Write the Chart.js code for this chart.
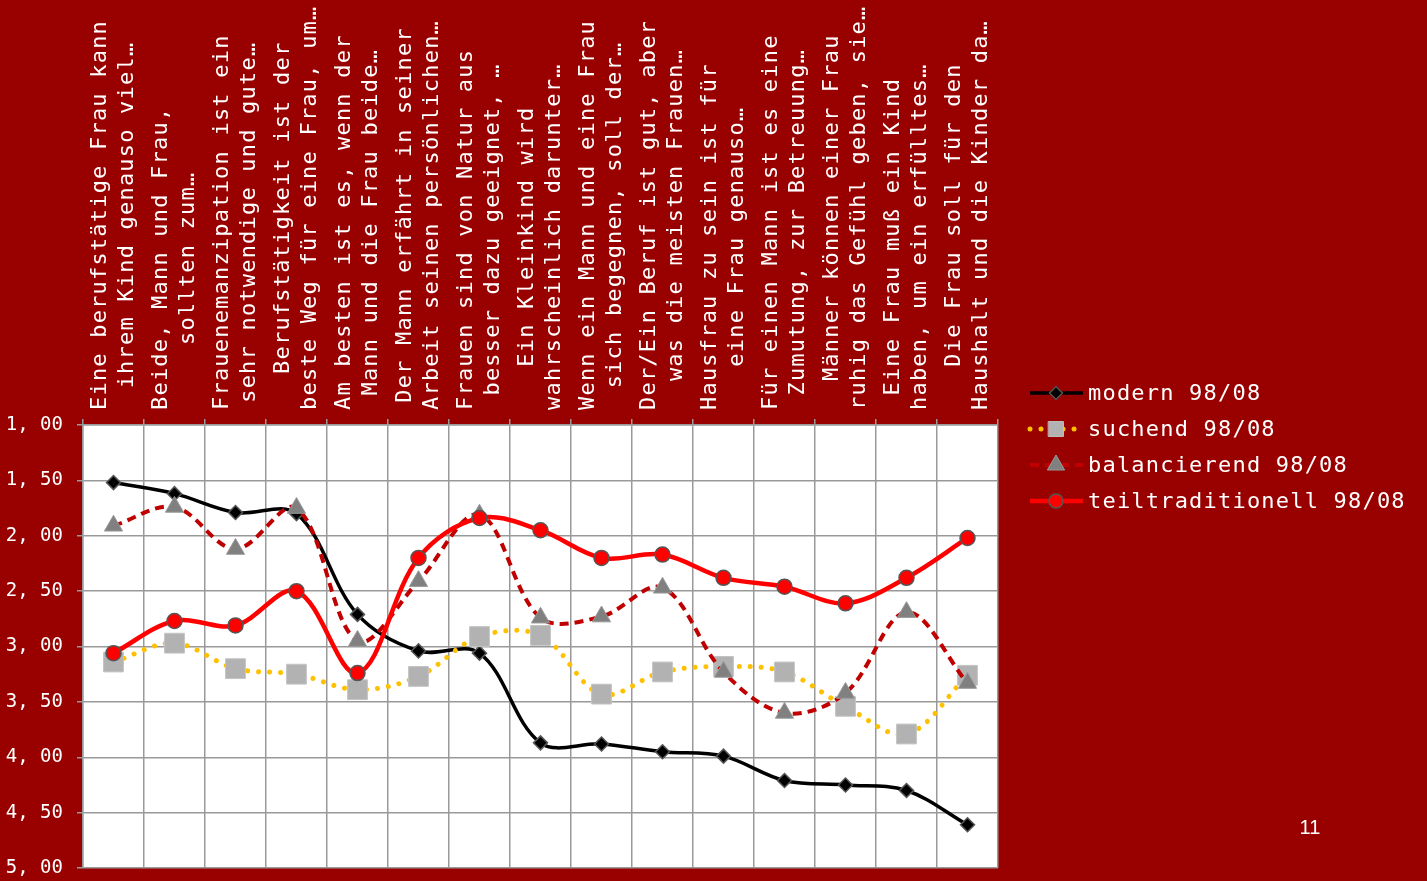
<!DOCTYPE html>
<html>
<head>
<meta charset="utf-8">
<script src="https://cdn.jsdelivr.net/npm/chart.js@4/dist/chart.umd.min.js"></script>
<style>
  html, body { margin: 0; padding: 0; background: #990000; overflow: hidden; }
  canvas { display: block; }
</style>
</head>
<body>
<canvas id="lineChart" width="1427" height="883"></canvas>
<script>
// categories: each statement is wrapped on two lines, as in the original sheet
const categories = [
  ['Eine berufstätige Frau kann', 'ihrem Kind genauso viel…'],
  ['Beide, Mann und Frau,', 'sollten zum…'],
  ['Frauenemanzipation ist ein', 'sehr notwendige und gute…'],
  ['Berufstätigkeit ist der', 'beste Weg für eine Frau, um…'],
  ['Am besten ist es, wenn der', 'Mann und die Frau beide…'],
  ['Der Mann erfährt in seiner', 'Arbeit seinen persönlichen…'],
  ['Frauen sind von Natur aus', 'besser dazu geeignet, …'],
  ['Ein Kleinkind wird', 'wahrscheinlich darunter…'],
  ['Wenn ein Mann und eine Frau', 'sich begegnen, soll der…'],
  ['Der/Ein Beruf ist gut, aber', 'was die meisten Frauen…'],
  ['Hausfrau zu sein ist für', 'eine Frau genauso…'],
  ['Für einen Mann ist es eine', 'Zumutung, zur Betreuung…'],
  ['Männer können einer Frau', 'ruhig das Gefühl geben, sie…'],
  ['Eine Frau muß ein Kind', 'haben, um ein erfülltes…'],
  ['Die Frau soll für den', 'Haushalt und die Kinder da…']
];

const modern         = [1.52, 1.62, 1.79, 1.80, 2.71, 3.04, 3.06, 3.87, 3.88, 3.95, 3.99, 4.21, 4.25, 4.30, 4.61];
const suchend        = [3.14, 2.97, 3.20, 3.25, 3.39, 3.27, 2.91, 2.90, 3.43, 3.23, 3.18, 3.23, 3.54, 3.79, 3.26];
const balancierend   = [1.91, 1.74, 2.12, 1.75, 2.95, 2.41, 1.81, 2.74, 2.73, 2.47, 3.23, 3.60, 3.42, 2.69, 3.33];
const teiltraditionell = [3.06, 2.77, 2.81, 2.50, 3.24, 2.20, 1.84, 1.95, 2.20, 2.17, 2.38, 2.46, 2.61, 2.38, 2.02];

const yTickValues = [1, 1.5, 2, 2.5, 3, 3.5, 4, 4.5, 5];
const yTickLabels = ['1, 00', '1, 50', '2, 00', '2, 50', '3, 00', '3, 50', '4, 00', '4, 50', '5, 00'];
const pageNumber = '11';

const MONO = '"DejaVu Sans Mono", "Liberation Mono", monospace';
const GRID = '#999999';

// weißer Plotbereich auf rotem Grund
const plotBackground = {
  id: 'plotBackground',
  beforeDraw(chart) {
    const { ctx, chartArea: a } = chart;
    ctx.save();
    ctx.fillStyle = '#990000';
    ctx.fillRect(0, 0, chart.width, chart.height);
    ctx.fillStyle = '#ffffff';
    ctx.fillRect(a.left, a.top, a.right - a.left, a.bottom - a.top);
    ctx.restore();
  }
};

// senkrechte, zentrierte Kategorienbeschriftung oberhalb des Plots
const categoryLabels = {
  id: 'categoryLabels',
  afterDraw(chart) {
    const { ctx, scales: { x } } = chart;
    ctx.save();
    ctx.font = '22px ' + MONO;
    ctx.letterSpacing = '1.2px';
    ctx.fillStyle = '#ffffff';
    ctx.textAlign = 'center';
    ctx.textBaseline = 'middle';
    categories.forEach((lines, i) => {
      const px = x.getPixelForValue(i);
      const w = Math.max(...lines.map(l => ctx.measureText(l).width));
      ctx.save();
      ctx.translate(px, 410);
      ctx.rotate(-Math.PI / 2);
      lines.forEach((line, j) => {
        ctx.fillText(line, w / 2, (j - (lines.length - 1) / 2) * 27);
      });
      ctx.restore();
    });
    ctx.restore();
  }
};

// Legende mit Linienmuster und Marker
const legendBox = {
  id: 'legendBox',
  afterDraw(chart) {
    const ctx = chart.ctx;
    chart.data.datasets.forEach((ds, i) => {
      const y = 393 + i * 36;
      ctx.save();
      ctx.strokeStyle = ds.borderColor;
      ctx.lineWidth = ds.borderWidth;
      ctx.lineCap = ds.borderCapStyle || 'butt';
      ctx.setLineDash(ds.borderDash || []);
      ctx.beginPath();
      ctx.moveTo(1030, y);
      ctx.lineTo(1083, y);
      ctx.stroke();
      ctx.setLineDash([]);
      ctx.fillStyle = ds.pointBackgroundColor;
      ctx.strokeStyle = ds.pointBorderColor;
      ctx.lineWidth = ds.pointBorderWidth;
      Chart.helpers.drawPoint(ctx, {
        pointStyle: ds.pointStyle,
        radius: ds.legendRadius,
        borderWidth: ds.pointBorderWidth,
        rotation: 0
      }, 1056, y);
      ctx.font = '22px ' + MONO;
      ctx.letterSpacing = '1.2px';
      ctx.fillStyle = '#ffffff';
      ctx.textAlign = 'left';
      ctx.textBaseline = 'middle';
      ctx.fillText(ds.label, 1088, y + 1);
      ctx.restore();
    });

    ctx.save();
    ctx.font = '20px "Liberation Sans", Arial, sans-serif';
    ctx.fillStyle = '#ffffff';
    ctx.textAlign = 'center';
    ctx.textBaseline = 'middle';
    ctx.fillText(pageNumber, 1310, 828);
    ctx.restore();
  }
};

new Chart(document.getElementById('lineChart'), {
  type: 'line',
  data: {
    labels: categories,
    datasets: [
      {
        label: 'modern 98/08',
        data: modern,
        borderColor: '#000000',
        borderWidth: 3.5,
        tension: 0.35,
        pointStyle: 'rectRot',
        pointRadius: 7,
        legendRadius: 6.5,
        pointBackgroundColor: '#000000',
        pointBorderColor: '#555555',
        pointBorderWidth: 1.5,
        order: 3
      },
      {
        label: 'suchend 98/08',
        data: suchend,
        borderColor: '#FFC000',
        borderWidth: 5,
        borderDash: [0.01, 11],
        borderCapStyle: 'round',
        tension: 0.35,
        pointStyle: 'rect',
        pointRadius: 14,
        legendRadius: 10.5,
        pointBackgroundColor: '#B2B2B2',
        pointBorderColor: '#C4C4C4',
        pointBorderWidth: 1,
        order: 2
      },
      {
        label: 'balancierend 98/08',
        data: balancierend,
        borderColor: '#C00000',
        borderWidth: 4,
        borderDash: [9, 6],
        tension: 0.35,
        pointStyle: 'triangle',
        pointRadius: 10.5,
        legendRadius: 10,
        pointBackgroundColor: '#808080',
        pointBorderColor: '#999999',
        pointBorderWidth: 1,
        order: 1
      },
      {
        label: 'teiltraditionell 98/08',
        data: teiltraditionell,
        borderColor: '#FF0000',
        borderWidth: 4.5,
        tension: 0.35,
        pointStyle: 'circle',
        pointRadius: 7.5,
        legendRadius: 7,
        pointBackgroundColor: '#FF0000',
        pointBorderColor: '#555555',
        pointBorderWidth: 1.5,
        order: 0
      }
    ]
  },
  options: {
    responsive: false,
    devicePixelRatio: 1,
    animation: false,
    layout: { padding: { top: 0, left: 0, right: 429, bottom: 10 } },
    plugins: {
      legend: { display: false },
      tooltip: { enabled: false }
    },
    scales: {
      x: {
        type: 'category',
        position: 'top',
        offset: true,
        grid: { offset: true, color: GRID, lineWidth: 1.5, tickLength: 6, tickColor: GRID },
        border: { color: GRID, width: 1.5 },
        ticks: { display: false },
        afterFit(scale) {
          scale.height = 425;
          scale.paddingLeft = 0;
          scale.paddingRight = 0;
        }
      },
      y: {
        position: 'left',
        reverse: true,
        min: 1,
        max: 5,
        afterBuildTicks(scale) {
          scale.ticks = yTickValues.map(v => ({ value: v }));
        },
        ticks: {
          color: '#ffffff',
          padding: 14,
          font: { family: MONO, size: 19 },
          callback: (value) => yTickLabels[yTickValues.indexOf(value)]
        },
        grid: { color: GRID, lineWidth: 1.5, tickLength: 6, tickColor: GRID },
        border: { color: GRID, width: 1.5 },
        afterFit(scale) {
          scale.width = 83;
          scale.paddingTop = 0;
          scale.paddingBottom = 0;
        }
      }
    }
  },
  plugins: [plotBackground, categoryLabels, legendBox]
});
</script>
</body>
</html>
